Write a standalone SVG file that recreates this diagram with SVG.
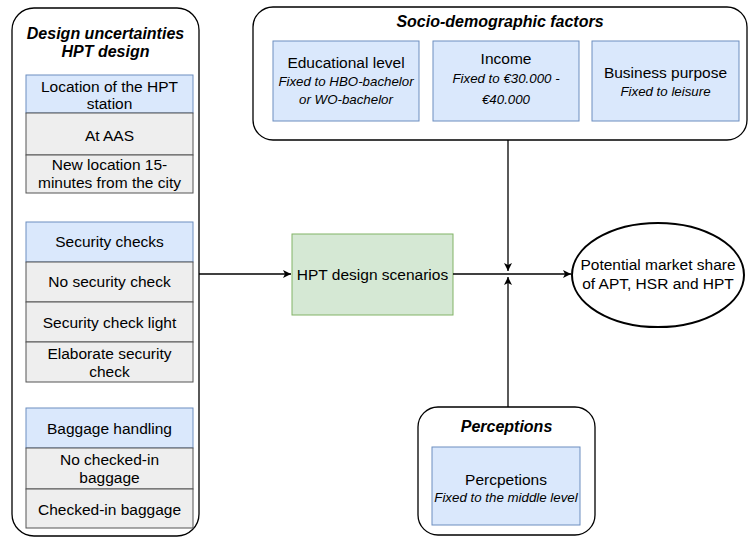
<svg xmlns="http://www.w3.org/2000/svg" width="751" height="538" viewBox="0 0 751 538">
<style>
text{font-family:"Liberation Sans",Arial,sans-serif;fill:#000;text-anchor:middle}
.t{font-size:15.5px}
.h{font-size:16px;font-weight:bold;font-style:italic}
.s{font-size:13.3px;font-style:italic}
.cont{fill:#fff;stroke:#000;stroke-width:1.3}
.blue{fill:#dae8fc;stroke:#6c8ebf}
.gray{fill:#eeeeee;stroke:#555}
.green{fill:#d5e8d4;stroke:#82b366}
.ln{fill:none;stroke:#000;stroke-width:1.3}
</style>
<defs>
<marker id="a" markerWidth="10" markerHeight="10" refX="9" refY="5" orient="auto" markerUnits="userSpaceOnUse">
<path d="M1,1 L9,5 L1,9 L3,5 Z" fill="#000"/>
</marker>
</defs>
<g id="design-uncertainties">
<rect class="cont" x="12" y="8" width="187" height="528" rx="22"/>
<text class="h" x="105.5" y="39">Design uncertainties</text>
<text class="h" x="105.5" y="57">HPT design</text>
<rect class="blue" x="26" y="75" width="167" height="38"/>
<text class="t" x="109.5" y="92">Location of the HPT</text>
<text class="t" x="109.5" y="109">station</text>
<rect class="gray" x="26" y="113" width="167" height="42"/>
<text class="t" x="109.5" y="141">At AAS</text>
<rect class="gray" x="26" y="155" width="167" height="38"/>
<text class="t" x="109.5" y="170">New location 15-</text>
<text class="t" x="109.5" y="188">minutes from the city</text>
<rect class="blue" x="26" y="222" width="167" height="40"/>
<text class="t" x="109.5" y="247">Security checks</text>
<rect class="gray" x="26" y="262" width="167" height="40"/>
<text class="t" x="109.5" y="287">No security check</text>
<rect class="gray" x="26" y="302" width="167" height="40"/>
<text class="t" x="109.5" y="328">Security check light</text>
<rect class="gray" x="26" y="342" width="167" height="40"/>
<text class="t" x="109.5" y="359">Elaborate security</text>
<text class="t" x="109.5" y="377">check</text>
<rect class="blue" x="26" y="408" width="167" height="40"/>
<text class="t" x="109.5" y="434">Baggage handling</text>
<rect class="gray" x="26" y="448" width="167" height="41"/>
<text class="t" x="109.5" y="465">No checked-in</text>
<text class="t" x="109.5" y="483">baggage</text>
<rect class="gray" x="26" y="489" width="167" height="39"/>
<text class="t" x="109.5" y="515">Checked-in baggage</text>
</g>
<g id="socio-demographic">
<rect class="cont" x="253" y="7" width="494" height="133" rx="20"/>
<text class="h" x="500" y="27">Socio-demographic factors</text>
<rect class="blue" x="273" y="41" width="146" height="80"/>
<text class="t" x="346" y="68">Educational level</text>
<text class="s" x="346" y="86">Fixed to HBO-bachelor</text>
<text class="s" x="346" y="104">or WO-bachelor</text>
<rect class="blue" x="433" y="41" width="146" height="80"/>
<text class="t" x="506" y="64">Income</text>
<text class="s" x="506" y="83">Fixed to €30.000 -</text>
<text class="s" x="506" y="104">€40.000</text>
<rect class="blue" x="592" y="41" width="147" height="80"/>
<text class="t" x="665.5" y="78">Business purpose</text>
<text class="s" x="665.5" y="96">Fixed to leisure</text>
</g>
<g id="hpt-design-scenarios">
<rect class="green" x="292" y="234" width="161" height="81"/>
<text class="t" x="372.5" y="280">HPT design scenarios</text>
</g>
<g id="market-share">
<ellipse cx="658" cy="275" rx="86" ry="52" fill="#fff" stroke="#000" stroke-width="2"/>
<text class="t" x="658" y="270">Potential market share</text>
<text class="t" x="658" y="289">of APT, HSR and HPT</text>
</g>
<g id="perceptions">
<rect class="cont" x="418" y="407" width="177" height="128" rx="20"/>
<text class="h" x="506.5" y="432">Perceptions</text>
<rect class="blue" x="432" y="447" width="148" height="78"/>
<text class="t" x="506" y="485">Percpetions</text>
<text class="s" x="506" y="502">Fixed to the middle level</text>
</g>
<g id="connectors">
<line class="ln" x1="199" y1="274" x2="291" y2="274" marker-end="url(#a)"/>
<line class="ln" x1="453" y1="274" x2="571" y2="274" marker-end="url(#a)"/>
<line class="ln" x1="508" y1="140" x2="508" y2="271" marker-end="url(#a)"/>
<line class="ln" x1="508" y1="407" x2="508" y2="277" marker-end="url(#a)"/>
</g>
</svg>
